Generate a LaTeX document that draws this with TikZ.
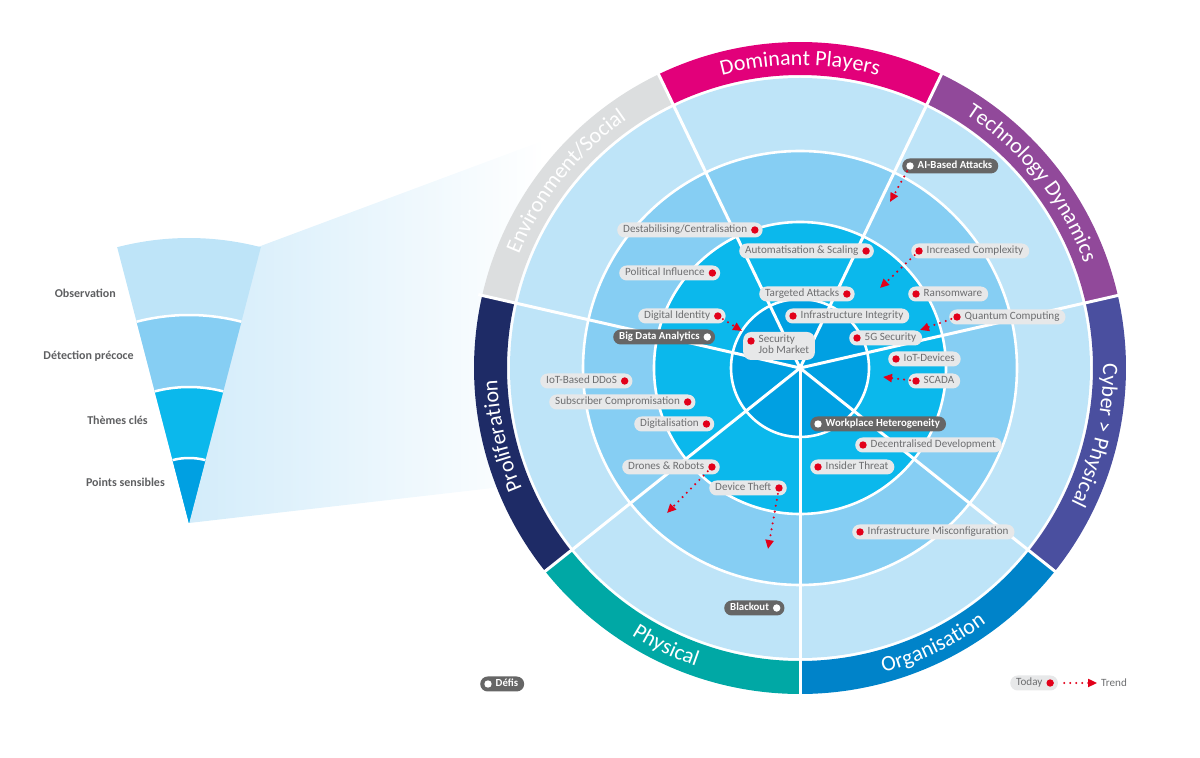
\documentclass[tikz,border=0pt]{standalone}
\usepackage{fontspec}
\setmainfont{Carlito}
\usetikzlibrary{arrows.meta,decorations.text}
\definecolor{ringA}{HTML}{BEE4F8}
\definecolor{ringB}{HTML}{86CEF3}
\definecolor{ringC}{HTML}{0BB8EC}
\definecolor{ringD}{HTML}{00A0E2}
\definecolor{cDom}{HTML}{E2007A}
\definecolor{cTech}{HTML}{91499A}
\definecolor{cCyb}{HTML}{4A4F9F}
\definecolor{cOrg}{HTML}{0083C9}
\definecolor{cPhy}{HTML}{00A8A5}
\definecolor{cPro}{HTML}{1E2B66}
\definecolor{cEnv}{HTML}{DCDEDF}
\definecolor{tgray}{HTML}{6D6E70}
\definecolor{fgray}{HTML}{5E5F61}
\definecolor{pillgray}{HTML}{E7E8E9}
\definecolor{darkpill}{HTML}{666666}
\definecolor{dotred}{HTML}{E2001A}
\definecolor{beam}{HTML}{D3ECFA}
\newcommand\pillfont{\fontsize{11.1}{11}\selectfont}
\newcommand\dpillfont{\bfseries\fontsize{10.8}{11}\selectfont}
\newcommand\bandfont{\fontsize{22}{22}\selectfont}
\tikzset{
  pill/.style={fill=pillgray, text=tgray, rounded corners=7.5pt, minimum height=15pt,
    inner xsep=6pt, inner ysep=0pt, text height=8.2pt, text depth=2.2pt, font=\pillfont},
  dpill/.style={pill, fill=darkpill, text=white, font=\dpillfont},
  flabel/.style={font=\bfseries\fontsize{12}{12}\selectfont, text=fgray, anchor=east, inner sep=0pt},
  trend/.style={dotred, line width=2.3pt, dash pattern=on 0pt off 6pt, line cap=round,
    -{Triangle[length=9pt,width=8pt]}, shorten <=6pt},
}
\newcommand\pillR[3]{\node[pill,anchor=west] (#1) at (#2) {#3\kern9.5pt};
  \coordinate (#1-d) at ([xshift=-8pt]#1.east); \fill[dotred] (#1-d) circle (3.7pt);}
\newcommand\pillL[3]{\node[pill,anchor=west] (#1) at (#2) {\kern9.5pt#3};
  \coordinate (#1-d) at ([xshift=8pt]#1.west); \fill[dotred] (#1-d) circle (3.7pt);}
\newcommand\dpillR[3]{\node[dpill,anchor=west] (#1) at (#2) {#3\kern9.5pt};
  \coordinate (#1-d) at ([xshift=-8pt]#1.east); \fill[white] (#1-d) circle (3.7pt);}
\newcommand\dpillL[3]{\node[dpill,anchor=west] (#1) at (#2) {\kern9.5pt#3};
  \coordinate (#1-d) at ([xshift=8pt]#1.west); \fill[white] (#1-d) circle (3.7pt);}
\begin{document}
\begin{tikzpicture}[x=1pt,y=1pt]
\useasboundingbox (0,0) rectangle (1200,758);
\begin{scope}[shift={(0,758)}]
% beam
\shade[left color=beam, right color=white] (258,-247) -- (545,-140) -- (545,-482) -- (189,-523) -- cycle;
% funnel
\begin{scope}[shift={(189,-523)}]
  \fill[ringA] (0,0) -- (75.4:285) arc[start angle=75.4,end angle=104.6,radius=285] -- cycle;
  \fill[ringB] (0,0) -- (75.4:208) arc[start angle=75.4,end angle=104.6,radius=208] -- cycle;
  \fill[ringC] (0,0) -- (75.4:136) arc[start angle=75.4,end angle=104.6,radius=136] -- cycle;
  \fill[ringD] (0,0) -- (75.4:65) arc[start angle=75.4,end angle=104.6,radius=65] -- cycle;
  \draw[white,line width=2.5] (75.4:208) arc[start angle=75.4,end angle=104.6,radius=208];
  \draw[white,line width=2.5] (75.4:136) arc[start angle=75.4,end angle=104.6,radius=136];
  \draw[white,line width=2.5] (75.4:65) arc[start angle=75.4,end angle=104.6,radius=65];
\end{scope}
\node[flabel] (obs) at (116,-293) {Observation};
\node[flabel] (det) at (134,-356) {Détection précoce};
\node[flabel] (the) at (148,-420) {Thèmes clés};
\node[flabel] (pts) at (165,-482) {Points sensibles};
% radar
\begin{scope}[shift={(800,-368)}]
  \foreach \k/\c in {0/cOrg,1/cCyb,2/cTech,3/cDom,4/cEnv,5/cPro,6/cPhy} {
    \pgfmathsetmacro\aa{-90+\k*360/7}
    \pgfmathsetmacro\ab{\aa+360/7}
    \fill[\c] (\aa:326) arc[start angle=\aa,end angle=\ab,radius=326] -- (\ab:293)
      arc[start angle=\ab,end angle=\aa,radius=293] -- cycle;
  }
  \fill[ringA] (0,0) circle (290);
  \fill[ringB] (0,0) circle (217);
  \fill[ringC] (0,0) circle (146);
  \fill[ringD] (0,0) circle (69);
  \draw[white,line width=2.6] (0,0) circle (217) (0,0) circle (146) (0,0) circle (69);
  \foreach \k in {0,...,6} \draw[white,line width=3] (0,0) -- ({-90+\k*360/7}:330);
  % band texts
  \path[decorate,decoration={text along path,text={|\bandfont|Dominant Players},text align=center,text color=white}]
    (115.714:303) arc[start angle=115.714,end angle=64.286,radius=303];
  \path[decorate,decoration={text along path,text={|\bandfont|Technology Dynamics},text align=center,text color=white}]
    (64.286:303) arc[start angle=64.286,end angle=12.857,radius=303];
  \path[decorate,decoration={text along path,text={|\bandfont|Cyber > Physical},text align=center,text color=white}]
    (12.857:303) arc[start angle=12.857,end angle=-38.571,radius=303];
  \path[decorate,decoration={text along path,text={|\bandfont|Environment/Social},text align=center,text color=white}]
    (167.143:303) arc[start angle=167.143,end angle=115.714,radius=303];
  \path[decorate,decoration={text along path,text={|\bandfont|Proliferation},text align=center,text color=white}]
    (218.571:303) arc[start angle=218.571,end angle=167.143,radius=303];
  \path[decorate,decoration={text along path,text={|\bandfont|Physical},text align=center,text color=white}]
    (-141.429:316) arc[start angle=-141.429,end angle=-90,radius=316];
  \path[decorate,decoration={text along path,text={|\bandfont|Organisation},text align=center,text color=white}]
    (-90:316) arc[start angle=-90,end angle=-38.571,radius=316];
\end{scope}
% labels
\dpillL{ai}{902,-166}{AI-Based Attacks}
\pillR{destab}{617,-230}{Destabilising/Centralisation}
\pillR{autom}{739,-251}{Automatisation \& Scaling}
\pillL{incr}{911,-251}{Increased Complexity}
\pillR{polit}{619,-273}{Political Influence}
\pillR{targ}{759,-294}{Targeted Attacks}
\pillL{ransom}{908,-294}{Ransomware}
\pillR{digid}{638,-316}{Digital Identity}
\pillL{infint}{785,-316}{Infrastructure Integrity}
\pillL{quant}{949,-317}{Quantum Computing}
\dpillR{bigdata}{613,-337}{Big Data Analytics}
\node[fill=pillgray, text=tgray, rounded corners=8pt, inner xsep=6pt, inner ysep=3pt, font=\pillfont, anchor=west]
  (sjm) at (743,-346) {\kern9.5pt\begin{tabular}{@{}l@{}}Security\\Job Market\end{tabular}};
\coordinate (sjm-d) at ([xshift=8pt,yshift=5pt]sjm.west);
\fill[dotred] (sjm-d) circle (3.7pt);
\pillL{fiveg}{849,-338}{5G Security}
\pillL{iotdev}{888,-359}{IoT-Devices}
\pillL{scada}{908,-381}{SCADA}
\pillR{iotddos}{540,-381}{IoT-Based DDoS}
\pillR{subs}{549,-402}{Subscriber Compromisation}
\pillR{digit}{634,-424}{Digitalisation}
\dpillL{workplace}{810,-424}{Workplace Heterogeneity}
\pillL{decen}{855,-445}{Decentralised Development}
\pillR{drones}{622,-467}{Drones \& Robots}
\pillL{insider}{810,-467}{Insider Threat}
\pillR{theft}{709,-488}{Device Theft}
\pillL{infmis}{852,-532}{Infrastructure Misconfiguration}
\dpillR{blackout}{724,-608}{Blackout}
\dpillL{defis}{480,-684}{Défis}
\pillR{today}{1010,-683}{Today}
\node[anchor=west, inner sep=0pt, text=tgray, font=\pillfont] (trendlbl) at (1101,-683) {Trend};
% trend arrows
\coordinate (ai-t) at (890,-202);
\coordinate (incr-t) at (880,-288);
\coordinate (digid-t) at (742,-331);
\coordinate (quant-t) at (920,-330);
\coordinate (scada-t) at (883,-377);
\coordinate (drones-t) at (667,-513);
\coordinate (theft-t) at (768,-549);
\draw[trend] (ai-d) -- (ai-t);
\draw[trend] (incr-d) -- (incr-t);
\draw[trend] (digid-d) -- (digid-t);
\draw[trend] (quant-d) -- (quant-t);
\draw[trend] (scada-d) -- (scada-t);
\draw[trend] (drones-d) -- (drones-t);
\draw[trend] (theft-d) -- (theft-t);
\draw[trend, shorten <=14pt, shorten >=4pt] (today-d) -- (trendlbl.west);
\end{scope}
\end{tikzpicture}
\end{document}
